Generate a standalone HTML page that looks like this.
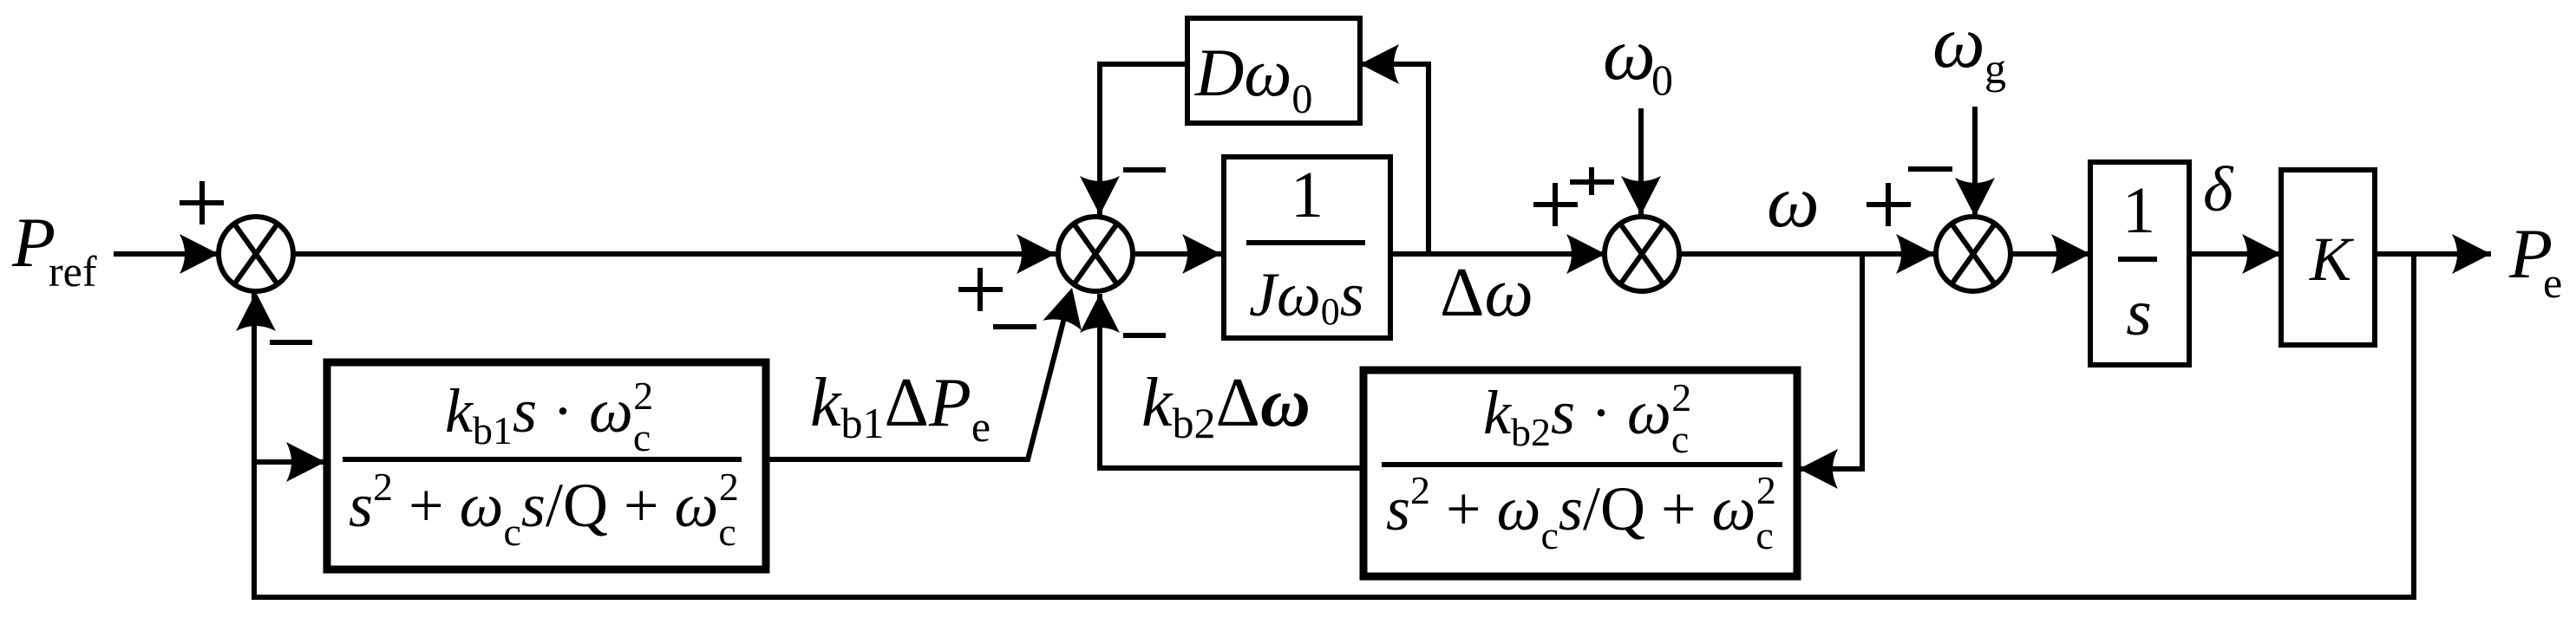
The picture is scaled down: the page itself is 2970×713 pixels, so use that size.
<!DOCTYPE html>
<html><head><meta charset="utf-8"><style>
html,body{margin:0;padding:0;background:#fff;}
svg{display:block;}
text{font-family:"Liberation Serif",serif;fill:#000;}
.i{font-style:italic;}
</style></head><body>
<svg width="2970" height="713" viewBox="0 0 2970 713" xmlns="http://www.w3.org/2000/svg">
<defs><path id="ar" d="M0,0 L-45,-23 Q-33,0 -45,23 Z" fill="#000"/></defs>
<g stroke="#000" stroke-width="6" fill="none">
<!-- sum junctions -->
<circle cx="295" cy="293" r="43"/><path d="M270 258 L320 328 M320 258 L270 328"/>
<circle cx="1263" cy="293" r="43"/><path d="M1238 258 L1288 328 M1288 258 L1238 328"/>
<circle cx="1893" cy="293" r="43"/><path d="M1868 258 L1918 328 M1918 258 L1868 328"/>
<circle cx="2275" cy="293" r="43"/><path d="M2250 258 L2300 328 M2300 258 L2250 328"/>
<!-- boxes -->
<rect x="1369" y="21" width="199" height="121"/>
<rect x="1411" y="181" width="192" height="209"/>
<rect x="2410" y="187" width="114" height="234"/>
<rect x="2630" y="196" width="108" height="202"/>
<rect x="377" y="418" width="506" height="239" stroke-width="9"/>
<rect x="1572" y="427" width="500" height="238" stroke-width="9"/>
<!-- connectors -->
<path d="M131 293 H252"/>
<path d="M338 293 H1217"/>
<path d="M1306 293 H1408"/>
<path d="M1603 293 H1851"/>
<path d="M1647 293 V74 H1568"/>
<path d="M1369 74 H1268 V248"/>
<path d="M1936 293 H2231"/>
<path d="M2147 293 V541 H2072"/>
<path d="M2318 293 H2410"/>
<path d="M2524 293 H2630"/>
<path d="M2738 293 H2872"/>
<path d="M2783 293 V689 H293 V337"/>
<path d="M293 533 H373"/>
<path d="M883 530 H1185 L1230 355"/>
<path d="M1572 540 H1268 V339"/>
<path d="M1892 125 V248"/>
<path d="M2277 123 V250"/>
<!-- fraction lines -->
<path d="M1437 280 H1574"/>
<path d="M2442 299 H2487"/>
<path d="M395 530 H855"/>
<path d="M1593 536 H2055"/>
<!-- signs -->
<path d="M233 209 V259 M207 234 H258"/>
<path d="M311 395 H360"/>
<path d="M1295 196 H1344"/>
<path d="M1130 309 V359 M1105 334 H1156"/>
<path d="M1145 377 H1195"/>
<path d="M1295 387 H1344"/>
<path d="M1835 193 V225 M1810 210 H1861"/>
<path d="M1793 211 V261 M1768 236 H1819"/>
<path d="M2177 211 V261 M2152 236 H2203"/>
<path d="M2200 195 H2251"/>
</g>
<!-- arrowheads -->
<use href="#ar" transform="translate(252,293)"/>
<use href="#ar" transform="translate(1217,293)"/>
<use href="#ar" transform="translate(1408,293)"/>
<use href="#ar" transform="translate(1851,293)"/>
<use href="#ar" transform="translate(2231,293)"/>
<use href="#ar" transform="translate(2410,293)"/>
<use href="#ar" transform="translate(2630,293)"/>
<use href="#ar" transform="translate(2872,293)"/>
<use href="#ar" transform="translate(375,533)"/>
<use href="#ar" transform="translate(1568,74) rotate(180)"/>
<use href="#ar" transform="translate(2074,541) rotate(180)"/>
<use href="#ar" transform="translate(295,337) rotate(-90)"/>
<use href="#ar" transform="translate(1268,339) rotate(-90)"/>
<use href="#ar" transform="translate(1268,248) rotate(90)"/>
<use href="#ar" transform="translate(1892,248) rotate(90)"/>
<use href="#ar" transform="translate(2277,250) rotate(90)"/>
<use href="#ar" transform="translate(1236,332) rotate(-75.5)"/>
<!-- labels -->
<text x="14" y="307" font-size="82" class="i">P</text>
<text x="56" y="330" font-size="50">ref</text>
<text x="2893" y="320" font-size="82" class="i">P</text>
<text x="2932" y="343" font-size="50">e</text>
<text x="1378" y="110" font-size="78"><tspan class="i">Dω</tspan><tspan font-size="48" dy="20">0</tspan></text>
<text x="1507" y="250" font-size="76" text-anchor="middle">1</text>
<text x="1440" y="364" font-size="72"><tspan class="i">Jω</tspan><tspan font-size="44" dy="10">0</tspan><tspan class="i" dy="-10">s</tspan></text>
<text x="1660" y="364" font-size="80">Δ<tspan class="i">ω</tspan></text>
<text x="1848" y="91" font-size="86" class="i">ω</text>
<text x="1904" y="109" font-size="50">0</text>
<text x="2228" y="77" font-size="86" class="i">ω</text>
<text x="2288" y="96" font-size="50">g</text>
<text x="2037" y="261" font-size="86" class="i">ω</text>
<text x="2466" y="268" font-size="76" text-anchor="middle">1</text>
<text x="2466" y="386" font-size="76" text-anchor="middle" class="i">s</text>
<text x="2540" y="243" font-size="74" class="i">δ</text>
<text x="2687" y="323" font-size="72" text-anchor="middle" class="i">K</text>
<text x="934" y="491" font-size="80"><tspan class="i">k</tspan><tspan font-size="50" dy="14">b1</tspan><tspan dy="-14">Δ</tspan><tspan class="i">P</tspan><tspan font-size="50" dy="18">e</tspan></text>
<text x="1316" y="491" font-size="80"><tspan class="i">k</tspan><tspan font-size="50" dy="14">b2</tspan><tspan dy="-14">Δ</tspan><tspan class="i" font-weight="bold">ω</tspan></text>
<text x="513" y="498" font-size="72"><tspan class="i">k</tspan><tspan font-size="46" dy="14">b1</tspan><tspan class="i" dy="-14">s</tspan> · <tspan class="i">ω</tspan><tspan font-size="46" dy="22">c</tspan><tspan font-size="46" dx="-20" dy="-48">2</tspan></text>
<text x="402" y="607" font-size="72"><tspan class="i">s</tspan><tspan font-size="46" dy="-30">2</tspan><tspan dy="30"> + </tspan><tspan class="i">ω</tspan><tspan font-size="46" dy="22">c</tspan><tspan class="i" dy="-22">s</tspan>/Q + <tspan class="i">ω</tspan><tspan font-size="46" dy="22">c</tspan><tspan font-size="46" dx="-20" dy="-52">2</tspan></text>
<text x="1710" y="500" font-size="72"><tspan class="i">k</tspan><tspan font-size="46" dy="14">b2</tspan><tspan class="i" dy="-14">s</tspan> · <tspan class="i">ω</tspan><tspan font-size="46" dy="22">c</tspan><tspan font-size="46" dx="-20" dy="-48">2</tspan></text>
<text x="1598" y="611" font-size="72"><tspan class="i">s</tspan><tspan font-size="46" dy="-30">2</tspan><tspan dy="30"> + </tspan><tspan class="i">ω</tspan><tspan font-size="46" dy="22">c</tspan><tspan class="i" dy="-22">s</tspan>/Q + <tspan class="i">ω</tspan><tspan font-size="46" dy="22">c</tspan><tspan font-size="46" dx="-20" dy="-52">2</tspan></text>
</svg>
</body></html>
